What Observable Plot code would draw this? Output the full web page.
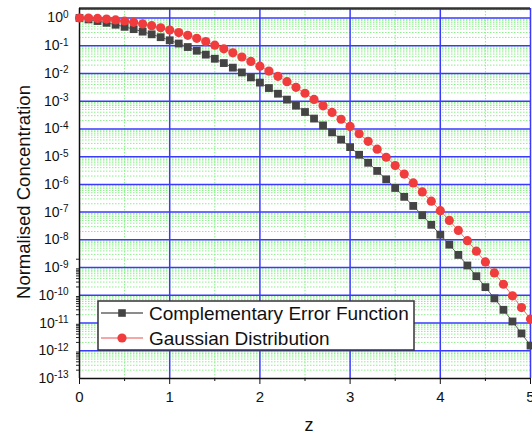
<!DOCTYPE html>
<html>
<head>
<meta charset="utf-8">
<script src="https://cdn.jsdelivr.net/npm/d3@7"></script>
<script src="https://cdn.jsdelivr.net/npm/@observablehq/plot@0.6"></script>
<style>
  html, body { margin: 0; padding: 0; background: white; }
  #chart { position: relative; width: 532px; height: 436px; }
</style>
</head>
<body>
<div id="chart"></div>
<script>
// ---- data ----
const z = [0.0,0.1,0.2,0.3,0.4,0.5,0.6,0.7,0.8,0.9,
           1.0,1.1,1.2,1.3,1.4,1.5,1.6,1.7,1.8,1.9,
           2.0,2.1,2.2,2.3,2.4,2.5,2.6,2.7,2.8,2.9,
           3.0,3.1,3.2,3.3,3.4,3.5,3.6,3.7,3.8,3.9,
           4.0,4.1,4.2,4.3,4.4,4.5,4.6,4.7,4.8,4.9,5.0];
const erfcValues = [1, 0.888, 0.777, 0.671, 0.572, 0.480, 0.396, 0.322, 0.258, 0.203,
  0.157, 0.120, 0.0897, 0.0660, 0.0477, 0.0339, 0.0237, 0.0162, 0.0109, 0.00721,
  0.00468, 0.00298, 0.00186, 0.00114, 6.89e-4, 4.07e-4, 2.36e-4, 1.34e-4, 7.50e-5, 4.11e-5,
  2.21e-5, 1.17e-5, 6.03e-6, 3.06e-6, 1.52e-6, 7.43e-7, 3.56e-7, 1.67e-7, 7.70e-8, 3.48e-8,
  1.54e-8, 6.70e-9, 2.86e-9, 1.19e-9, 4.89e-10, 1.97e-10, 7.75e-11, 3.00e-11, 1.14e-11, 4.22e-12, 1.54e-12];
const gaussValues = [1, 0.990, 0.961, 0.914, 0.852, 0.779, 0.698, 0.613, 0.527, 0.445,
  0.368, 0.298, 0.237, 0.185, 0.141, 0.105, 0.0773, 0.0556, 0.0392, 0.0271,
  0.0183, 0.0122, 0.00791, 0.00504, 0.00315, 0.00193, 0.00116, 6.82e-4, 3.94e-4, 2.23e-4,
  1.23e-4, 6.71e-5, 3.57e-5, 1.86e-5, 9.50e-6, 4.79e-6, 2.35e-6, 1.13e-6, 5.35e-7, 2.48e-7,
  1.13e-7, 5.00e-8, 2.18e-8, 9.30e-9, 3.90e-9, 1.60e-9, 6.40e-10, 2.50e-10, 9.60e-11, 3.60e-11, 1.39e-11];
const seriesNames = ["Complementary Error Function", "Gaussian Distribution"];
const xTickValues = [0, 1, 2, 3, 4, 5];
const xMinorValues = [0.5, 1.5, 2.5, 3.5, 4.5];
const yExponents = [0,-1,-2,-3,-4,-5,-6,-7,-8,-9,-10,-11,-12,-13];
const yTop = 2.2;
const xLabel = "z";
const yLabel = "Normalised Concentration";

// ---- derived tables ----
const data = z.map((v, i) => ({z: v, erfc: erfcValues[i], gauss: gaussValues[i]}));
const yMajor = yExponents.map(e => Math.pow(10, e));
const yMinor = [];
for (const e of yExponents) for (let k = 2; k <= 9; k++) yMinor.push(k * Math.pow(10, e));
const yMinorDrawn = yMinor.filter(v => v < yTop);
const leftMinorTicks = yMinor.filter(v => v <= 2.1e-9);

const FONT = "'Liberation Sans', Arial, Helvetica, sans-serif";
const BLUE = "#3a3aff";
const GREEN = "#8af08a";

const plot = Plot.plot({
  width: 532,
  height: 436,
  marginLeft: 79,
  marginRight: 2,
  marginTop: 8,
  marginBottom: 58,
  x: {domain: [0, 5]},
  y: {type: "log", domain: [1e-13, yTop]},
  style: {fontFamily: FONT, background: "white", overflow: "visible", color: "#111"},
  marks: [
    Plot.ruleY(yMinorDrawn, {stroke: GREEN, strokeWidth: 1, strokeDasharray: "1.5,1.5"}),
    Plot.ruleX(xMinorValues, {stroke: GREEN, strokeWidth: 1, strokeDasharray: "1.5,1.5"}),
    Plot.ruleY(yMajor.filter(v => v > 1e-13), {stroke: BLUE, strokeWidth: 1.5}),
    Plot.ruleX(xTickValues.filter(v => v > 0), {stroke: BLUE, strokeWidth: 1.5}),
    Plot.ruleY([yTop], {stroke: "#333", strokeWidth: 2.5}),
    Plot.ruleX([0], {stroke: "#111", strokeWidth: 1.5}),
    Plot.ruleY([1e-13], {stroke: "#111", strokeWidth: 1.5}),
    Plot.axisY({ticks: yMajor, tickSize: 0, tickPadding: 11, fontSize: 14, label: null,
      tickFormat: d => "10^" + Math.round(Math.log10(d))}),
    Plot.axisY({ticks: leftMinorTicks, tickSize: 3, tickFormat: () => "", label: null, stroke: "#222"}),
    Plot.axisX({ticks: xTickValues, tickSize: 6, tickPadding: 7, fontSize: 15, label: null,
      tickFormat: d => String(d), stroke: "#111"}),
    Plot.axisX({ticks: xMinorValues, tickSize: 3, tickFormat: () => "", label: null, stroke: "#111"}),
    Plot.line(data, {x: "z", y: "erfc", stroke: "#666", strokeWidth: 1}),
    Plot.line(data, {x: "z", y: "gauss", stroke: "#f07070", strokeWidth: 1}),
    Plot.dot(data, {x: "z", y: "erfc", symbol: "square", r: 4.4, fill: "#444", stroke: "none"}),
    Plot.dot(data, {x: "z", y: "gauss", symbol: "circle", r: 4.6, fill: "#f03c3c", stroke: "none"})
  ]
});

document.getElementById("chart").appendChild(plot);

// superscript the log tick labels
const svg = d3.select(plot.tagName.toLowerCase() === "svg" ? plot : plot.querySelector("svg"));
svg.selectAll("text").each(function() {
  const m = /^10\^(-?\d+)$/.exec(this.textContent);
  if (m) {
    const t = d3.select(this);
    t.text(null);
    t.append("tspan").text("10");
    t.append("tspan").attr("dy", "-0.45em").attr("font-size", "10px").text(m[1]);
  }
});

// axis labels
svg.append("text")
  .attr("x", 309).attr("y", 431)
  .attr("text-anchor", "middle")
  .attr("font-family", FONT).attr("font-size", 18).attr("fill", "#111")
  .text(xLabel);
svg.append("text")
  .attr("transform", "translate(30,192) rotate(-90)")
  .attr("text-anchor", "middle")
  .attr("font-family", FONT).attr("font-size", 18.5).attr("fill", "#111")
  .text(yLabel);

// legend
const lg = svg.append("g").attr("font-family", FONT).attr("text-anchor", "start");
lg.append("rect").attr("x", 98).attr("y", 301).attr("width", 316).attr("height", 49)
  .attr("fill", "white").attr("stroke", "#333").attr("stroke-width", 1.5);
const rows = [
  {name: seriesNames[0], y: 313, line: "#666", fill: "#444", sq: true},
  {name: seriesNames[1], y: 338, line: "#f28a8a", fill: "#f03c3c", sq: false}
];
for (const r of rows) {
  lg.append("line").attr("x1", 101).attr("x2", 143).attr("y1", r.y).attr("y2", r.y)
    .attr("stroke", r.line).attr("stroke-width", 1.5);
  if (r.sq) lg.append("rect").attr("x", 122 - 3.8).attr("y", r.y - 3.8).attr("width", 7.6).attr("height", 7.6).attr("fill", r.fill);
  else lg.append("circle").attr("cx", 122).attr("cy", r.y).attr("r", 4.6).attr("fill", r.fill);
  lg.append("text").attr("x", 149).attr("y", r.y + 7).attr("text-anchor", "start")
    .attr("font-size", 19).attr("fill", "#111").text(r.name);
}
</script>
</body>
</html>
